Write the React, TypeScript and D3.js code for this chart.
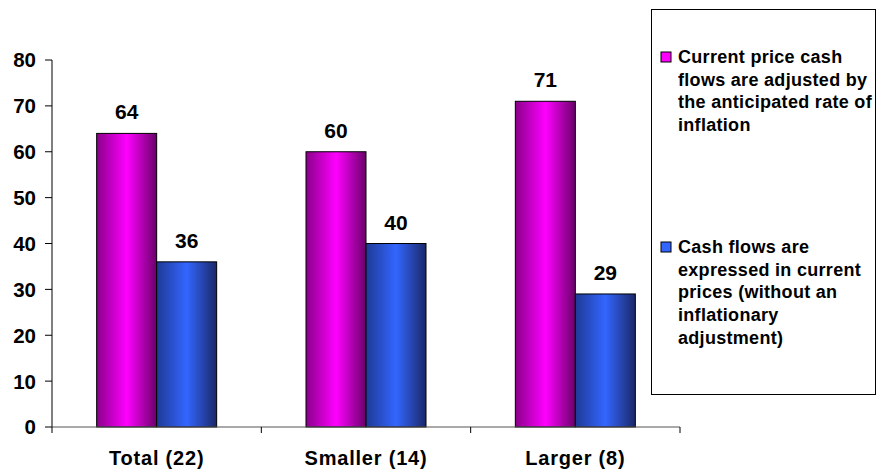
import React from 'react';
import * as d3 from 'd3';

const categories = ['Total (22)', 'Smaller (14)', 'Larger (8)'];
const seriesNames = [
  'Current price cash flows are adjusted by the anticipated rate of inflation',
  'Cash flows are expressed in current prices (without an inflationary adjustment)',
];
const adjustedValues = [64, 60, 71];
const currentPriceValues = [36, 40, 29];
const yTicks = [0, 10, 20, 30, 40, 50, 60, 70, 80];
const legendLines = [
  ['Current price cash', 'flows are adjusted by', 'the anticipated rate of', 'inflation'],
  ['Cash flows are', 'expressed in current', 'prices (without an', 'inflationary', 'adjustment)'],
];

const W = 877;
const H = 476;
const font = 'Arial, "Liberation Sans", Helvetica, sans-serif';

const App: React.FC = () => {
  const x = d3.scaleBand<string>().domain(categories).range([52, 680]).padding(0);
  const inner = d3.scaleBand<number>().domain([0, 1]).range([0, 120]).padding(0);
  const y = d3.scaleLinear().domain([0, 80]).range([427, 60]);

  const series = [adjustedValues, currentPriceValues];
  const grads = ['gradMagenta', 'gradBlue'];
  const swatch = ['#ff00ff', '#3366ff'];

  return (
    <svg
      width={W}
      height={H}
      viewBox={`0 0 ${W} ${H}`}
      style={{ position: 'absolute', left: 0, top: 0, background: '#fff' }}
    >
      <defs>
        <linearGradient id="gradMagenta" x1="0" x2="1" y1="0" y2="0">
          <stop offset="0" stopColor="#8a008a" />
          <stop offset="0.5" stopColor="#ff00ff" />
          <stop offset="1" stopColor="#6a006a" />
        </linearGradient>
        <linearGradient id="gradBlue" x1="0" x2="1" y1="0" y2="0">
          <stop offset="0" stopColor="#1f3a96" />
          <stop offset="0.5" stopColor="#3366ff" />
          <stop offset="1" stopColor="#1a2868" />
        </linearGradient>
      </defs>

      {/* bars */}
      {categories.map((c, ci) => {
        const cx = (x(c) ?? 0) + x.bandwidth() / 2 - 60;
        return series.map((vals, si) => {
          const bx = cx + (inner(si) ?? 0);
          const top = y(vals[ci]);
          return (
            <g key={`${c}-${si}`}>
              <rect
                x={bx}
                y={top}
                width={inner.bandwidth()}
                height={y(0) - top}
                fill={`url(#${grads[si]})`}
                stroke="#000"
                strokeWidth={1}
              />
              <text
                x={bx + inner.bandwidth() / 2}
                y={top - 14}
                textAnchor="middle"
                fontFamily={font}
                fontWeight="bold"
                fontSize={21}
                fill="#000"
              >
                {vals[ci]}
              </text>
            </g>
          );
        });
      })}

      {/* y axis */}
      <line x1={52} x2={52} y1={y(80)} y2={y(0)} stroke="#000" strokeWidth={1} />
      {yTicks.map((t) => (
        <g key={t}>
          <line x1={45} x2={52} y1={y(t)} y2={y(t)} stroke="#000" />
          <text
            x={36}
            y={y(t)}
            dy="0.36em"
            textAnchor="end"
            fontFamily={font}
            fontWeight="bold"
            fontSize={20.5}
            fill="#000"
          >
            {t}
          </text>
        </g>
      ))}

      {/* x axis */}
      <line x1={52} x2={680} y1={y(0)} y2={y(0)} stroke="#555" strokeWidth={1.2} />
      {[...categories.map((c) => x(c) ?? 0), 680].map((px, i) => (
        <line key={i} x1={px} x2={px} y1={y(0)} y2={y(0) + 6} stroke="#000" />
      ))}
      {categories.map((c) => (
        <text
          key={c}
          x={(x(c) ?? 0) + x.bandwidth() / 2}
          y={465}
          textAnchor="middle"
          fontFamily={font}
          fontWeight="bold"
          fontSize={20}
          letterSpacing={0.8}
          fill="#000"
        >
          {c}
        </text>
      ))}

      {/* legend */}
      <rect x={651.5} y={9.5} width={224} height={385} fill="#fff" stroke="#000" strokeWidth={1} />
      {seriesNames.map((name, si) => {
        const top = si === 0 ? 52 : 242;
        return (
          <g key={name}>
            <rect x={661} y={top} width={10} height={10} fill={swatch[si]} stroke="#000" strokeWidth={1} />
            <text fontFamily={font} fontWeight="bold" fontSize={18} letterSpacing={0.3} fill="#000">
              {legendLines[si].map((ln, li) => (
                <tspan key={li} x={678} y={top + 11 + li * 22.7}>
                  {ln}
                </tspan>
              ))}
            </text>
          </g>
        );
      })}
    </svg>
  );
};

export default App;
